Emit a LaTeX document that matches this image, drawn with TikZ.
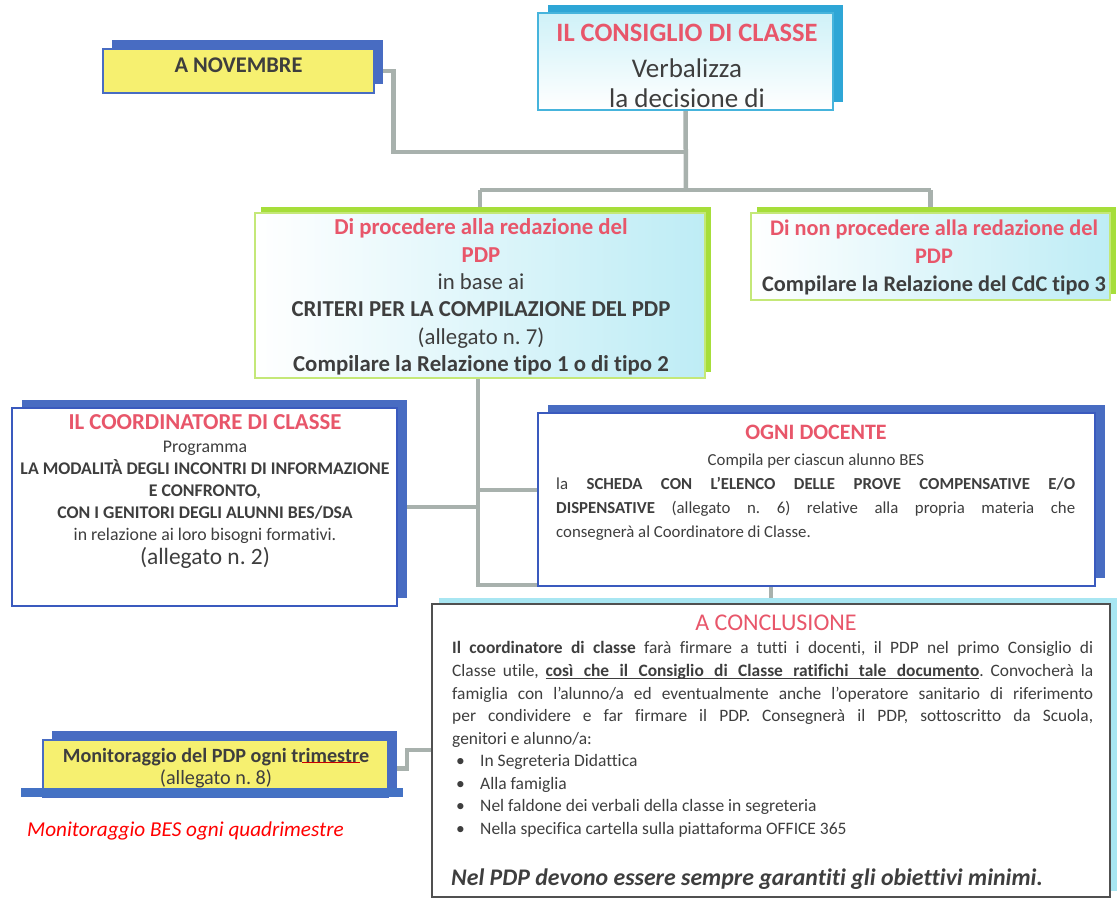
\documentclass[tikz,border=0pt]{standalone}
\usepackage{fontspec}
\setmainfont{Carlito}[Ligatures=NoCommon]
\usetikzlibrary{shadows,backgrounds,calc}
\definecolor{ttl}{RGB}{232,86,106}
\definecolor{txt}{RGB}{62,62,62}
\definecolor{yel}{RGB}{246,240,112}
\definecolor{bsh}{RGB}{72,108,194}
\definecolor{bbd}{RGB}{58,90,190}
\definecolor{csh}{RGB}{46,166,214}
\definecolor{cbd}{RGB}{70,180,220}
\definecolor{gsh}{RGB}{166,222,58}
\definecolor{gbd}{RGB}{196,232,120}
\definecolor{lcy}{RGB}{168,230,242}
\definecolor{dgr}{RGB}{80,80,80}
\definecolor{con}{RGB}{168,177,173}
\definecolor{barc}{RGB}{68,114,196}
\newcommand\fsz[2]{\fontsize{#1}{#2}\selectfont}
\newcommand\uw[1]{\setbox0\hbox{#1}\rlap{\vrule height -2.2pt depth 3.1pt width \wd0}\box0}
\newcommand\usp{\leaders\hrule height -2.2pt depth 3.1pt\hskip 0.23em plus 0.25em minus 0.07em\relax}
\frenchspacing
\begin{document}
\begin{tikzpicture}[x=1pt,y=-1pt,
  box/.style={rectangle, inner sep=0pt, line width=1.3pt},
  yelbox/.style={box, draw=bsh, fill=yel, general shadow={fill=bsh, draw=none, shadow xshift=9pt, shadow yshift=9pt}},
  bluebox/.style={box, draw=bbd, fill=white, general shadow={fill=bsh, draw=none, shadow xshift=10pt, shadow yshift=8pt}},
  greenbox/.style={box, draw=gbd, line width=1.6pt, fill=white, general shadow={fill=gsh, draw=none, shadow xshift=6pt, shadow yshift=6pt},
     path picture={\shade[left color=white, right color=lcy!75] (path picture bounding box.south west) rectangle (path picture bounding box.north east);}},
  conn/.style={draw=con, line width=4.5pt},
  txtn/.style={text=txt, inner sep=0pt, align=center},
  ttln/.style={text=ttl, inner sep=0pt, align=center, font=\bfseries},
]
\useasboundingbox (0,0) rectangle (1117,921);

% ---------- boxes ----------
\node[yelbox, minimum width=271pt, minimum height=44pt] (nov) at (238.5,71) {};
\node[txtn, font=\fsz{22.4}{24}\bfseries, anchor=center] (novt) at (238.5,65) {A NOVEMBRE};

\node[box, draw=cbd, fill=white, minimum width=295pt, minimum height=97pt,
  general shadow={fill=csh, draw=none, shadow xshift=10pt, shadow yshift=8pt},
  path picture={\shade[top color=lcy!55, bottom color=white] (path picture bounding box.south west) rectangle (path picture bounding box.north east);}] (cons) at (685.5,61.5) {};
\node[ttln, font=\fsz{26.5}{28}\bfseries] (const) at (687,33) {IL CONSIGLIO DI CLASSE};
\node[txtn, font=\fsz{27}{30}] (consb) at (687,83) {Verbalizza\\la decisione di};

\node[greenbox, minimum width=450pt, minimum height=165pt] (proc) at (480,295.5) {};
\node[txtn, font=\fsz{22.8}{27.4}] (proct) at (481,297) {%
  {\color{ttl}\bfseries Di procedere alla redazione del}\\
  {\color{ttl}\bfseries PDP}\\
  in base ai\\
  {\bfseries CRITERI PER LA COMPILAZIONE DEL PDP}\\
  (allegato n. 7)\\
  {\bfseries Compilare la Relazione tipo 1 o di tipo 2}};

\node[greenbox, minimum width=359pt, minimum height=87pt] (nonproc) at (930.5,256.5) {};
\node[txtn, font=\fsz{22.3}{28}] (nonproct) at (934,257) {%
  {\color{ttl}\bfseries Di non procedere alla redazione del}\\
  {\color{ttl}\bfseries PDP}\\
  {\bfseries Compilare la Relazione del CdC tipo 3}};

\node[bluebox, minimum width=385pt, minimum height=198pt] (coord) at (204.5,507) {};
\node[txtn, font=\fsz{17.8}{22}] (coordt) at (205,492) {%
  {\color{ttl}\bfseries\fsz{22.8}{22}IL COORDINATORE DI CLASSE}\\[1pt]
  Programma\\
  {\bfseries LA MODALITÀ DEGLI INCONTRI DI INFORMAZIONE}\\
  {\bfseries E CONFRONTO,}\\
  {\bfseries CON I GENITORI DEGLI ALUNNI BES/DSA}\\
  in relazione ai loro bisogni formativi.\\[2pt]
  {\fsz{23.4}{22}(allegato n. 2)}};

\node[bluebox, minimum width=557pt, minimum height=173pt] (ogni) at (816.5,499.5) {};
\node[ttln, font=\fsz{22}{22}\bfseries] (ognit) at (816,432) {OGNI DOCENTE};
\node[txtn, font=\fsz{16.8}{20}] (ognis) at (816,461) {Compila per ciascun alunno BES};
\node[txtn, font=\fsz{16.8}{24}, text width=519pt, align=justify, anchor=north west] (ognip) at (556,477) {%
  la \textbf{SCHEDA CON L’ELENCO DELLE PROVE COMPENSATIVE E/O}\linebreak
  \textbf{DISPENSATIVE} (allegato n. 6) relative alla propria materia che\linebreak
  consegnerà al Coordinatore di Classe.};

\node[box, draw=dgr, line width=1.2pt, fill=white, minimum width=678pt, minimum height=293pt,
  general shadow={fill=lcy, draw=none, shadow xshift=7pt, shadow yshift=6pt}] (concl) at (771,750.5) {};
\node[text=ttl, inner sep=0pt, font=\fsz{24}{26}] (conclt) at (776,623) {A CONCLUSIONE};
\node[txtn, font=\fsz{17.4}{22.8}, text width=641pt, align=justify, anchor=north west] (conclp) at (452,641) {%
  \textbf{Il coordinatore di classe} farà firmare a tutti i docenti, il PDP nel primo Consiglio di\linebreak
  Classe utile, {\bfseries\uw{così}\usp\uw{che}\usp\uw{il}\usp\uw{Consiglio}\usp\uw{di}\usp\uw{Classe}\usp\uw{ratifichi}\usp\uw{tale}\usp\uw{documento}}. Convocherà la\linebreak
  famiglia con l’alunno/a ed eventualmente anche l’operatore sanitario di riferimento\linebreak
  per condividere e far firmare il PDP. Consegnerà il PDP, sottoscritto da Scuola,\linebreak
  genitori e alunno/a:};
\node[txtn, font=\fsz{17.5}{22.7}, align=left, anchor=north west] (concll) at (456,754) {%
  \makebox[24pt][l]{•}In Segreteria Didattica\\
  \makebox[24pt][l]{•}Alla famiglia\\
  \makebox[24pt][l]{•}Nel faldone dei verbali della classe in segreteria\\
  \makebox[24pt][l]{•}Nella specifica cartella sulla piattaforma OFFICE 365};
\node[txtn, font=\fsz{23.8}{26}\bfseries\itshape, anchor=west] (conclf) at (451,879) {Nel PDP devono essere sempre garantiti gli obiettivi minimi.};

\node[yelbox, minimum width=345pt, minimum height=57pt] (monit) at (215.5,768.5) {};
\node[txtn, font=\fsz{20.2}{22}] (monitt) at (216,768) {{\bfseries Monitoraggio del PDP ogni trimestre}\\(allegato n. 8)};
\draw[red!80!black, line width=1.3pt] (302,762.5) -- (360,762.5);
\fill[barc] (21,788) rectangle (403,797);
\node[text=red, inner sep=0pt, font=\fsz{21.2}{22}\itshape, anchor=west] (bes) at (27,831) {Monitoraggio BES ogni quadrimestre};

% ---------- connectors ----------
\coordinate (j1) at (686,152);
\coordinate (j2) at (686,190);
\coordinate (j3) at (478,585);
\coordinate (j4) at (478,507);
\coordinate (j5) at (478,490);
\coordinate (j6) at (407,750);
\begin{scope}[on background layer]
\fill[white] (0,0) rectangle (1117,921);
\draw[conn] (nov.east) -- ++(19,0) |- (j1);
\draw[conn] (cons.south) -- (j2);
\draw[conn] (j2 -| proc.north) -- (j2 -| nonproc.north);
\draw[conn] (j2 -| proc.north) -- (proc.north);
\draw[conn] (j2 -| nonproc.north) -- (nonproc.north);
\draw[conn] (proc.south -| j3) -- (j3) -| (concl.north);
\draw[conn] (j4 -| coord.east) -- (j4);
\draw[conn] (j5) -- (j5 -| ogni.west);
\draw[conn] (monit.east) -| (j6) -- (j6 -| concl.west);
\end{scope}
\end{tikzpicture}
\end{document}
